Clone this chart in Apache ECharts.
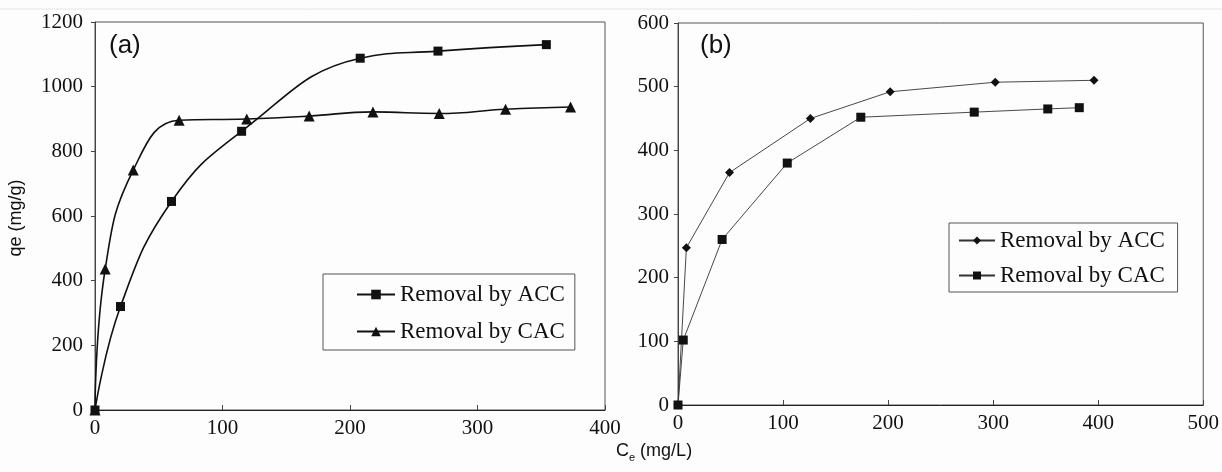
<!DOCTYPE html>
<html>
<head>
<meta charset="utf-8">
<script src="https://cdn.jsdelivr.net/npm/echarts@6/dist/echarts.min.js"></script>
<style>
  html, body { margin: 0; padding: 0; background: #fdfdfd; }
  #chart { width: 1222px; height: 472px; }
</style>
</head>
<body>
<div id="chart"></div>
<script>
// panel (a) values
const accAx = [0, 20, 60, 115, 208, 269, 354];
const accAy = [0, 320, 645, 862, 1088, 1110, 1130];
const cacAx = [0, 8, 30, 66, 119, 168, 218, 270, 322, 373];
const cacAy = [0, 436, 742, 896, 900, 909, 922, 917, 930, 937];

// panel (b) values
const accBx = [0, 8, 49, 126, 202, 302, 396];
const accBy = [0, 247, 365, 450, 492, 507, 510];
const cacBx = [0, 5, 42, 104, 174, 282, 352, 382];
const cacBy = [0, 102, 260, 380, 452, 460, 465, 467];

const nameAcc = 'Removal by ACC';
const nameCac = 'Removal by CAC';

const pairs = (xs, ys) => xs.map((x, i) => [x, ys[i]]);

const serif = 'Liberation Serif';
const sans = 'Liberation Sans';
const ink = '#111';

function axisX(grid, max, interval) {
  return {
    type: 'value', gridIndex: grid, min: 0, max: max, interval: interval,
    splitLine: { show: false },
    axisLine: { lineStyle: { color: '#222', width: 1 } },
    axisTick: { inside: true, length: 5, lineStyle: { color: '#444' } },
    axisLabel: { color: ink, fontFamily: serif, fontSize: 21, margin: 8, formatter: v => String(v) }
  };
}
function axisY(grid, max, interval, margin) {
  return {
    type: 'value', gridIndex: grid, min: 0, max: max, interval: interval,
    splitLine: { show: false },
    axisLine: { show: true, lineStyle: { color: '#444', width: 1 } },
    axisTick: { show: true, length: 4, lineStyle: { color: '#444' } },
    axisLabel: { color: ink, fontFamily: serif, fontSize: 21, margin: margin, formatter: v => String(v) }
  };
}

const chart = echarts.init(document.getElementById('chart'));
chart.setOption({
  animation: false,
  grid: [
    { left: 95, top: 22, width: 510, height: 388, show: true, borderColor: '#555', borderWidth: 1 },
    { left: 678, top: 23, width: 526, height: 382, show: true, borderColor: '#555', borderWidth: 1 }
  ],
  xAxis: [axisX(0, 400, 100), axisX(1, 500, 100)],
  yAxis: [axisY(0, 1200, 200, 12), axisY(1, 600, 100, 9)],
  legend: [
    {
      data: [nameAcc, nameCac],
      orient: 'vertical', left: 323, top: 274,
      padding: [9, 10, 7, 33], itemGap: 14, itemWidth: 38, itemHeight: 12,
      borderColor: '#555', borderWidth: 1,
      textStyle: { fontFamily: serif, fontSize: 23, color: ink }
    },
    {
      data: [nameAcc + ' ', nameCac + ' '],
      orient: 'vertical', left: 949, top: 223,
      padding: [6, 7, 5, 9], itemGap: 12, itemWidth: 36, itemHeight: 10,
      borderColor: '#555', borderWidth: 1,
      textStyle: { fontFamily: serif, fontSize: 23, color: ink }
    }
  ],
  graphic: [
    { type: 'line', shape: { x1: 0, y1: 9, x2: 1222, y2: 9 }, style: { stroke: '#e4e4e4', lineWidth: 1 } },
    { type: 'text', x: 109, y: 33, style: { text: '(a)', font: '26px ' + sans, fill: ink } },
    { type: 'text', x: 700, y: 33, style: { text: '(b)', font: '26px ' + sans, fill: ink } },
    {
      type: 'text', x: 16, y: 218, rotation: Math.PI / 2,
      style: { text: 'qe (mg/g)', font: '18px ' + sans, fill: ink, align: 'center', verticalAlign: 'middle' }
    },
    {
      type: 'text', x: 616, y: 442,
      style: {
        text: '{a|C}{b|e}{a| (mg/L)}',
        rich: {
          a: { fontFamily: sans, fontSize: 18, fill: ink, verticalAlign: 'top' },
          b: { fontFamily: sans, fontSize: 11, fill: ink, padding: [10, 0, 0, 0] }
        }
      }
    }
  ],
  series: [
    {
      name: nameAcc, type: 'line', xAxisIndex: 0, yAxisIndex: 0,
      data: pairs(accAx, accAy), smooth: 0.45,
      symbol: 'rect', symbolSize: 9,
      lineStyle: { color: '#111', width: 1.6 }, itemStyle: { color: '#111' }
    },
    {
      name: nameCac, type: 'line', xAxisIndex: 0, yAxisIndex: 0,
      data: pairs(cacAx, cacAy), smooth: 0.45,
      symbol: 'triangle', symbolSize: 11,
      lineStyle: { color: '#111', width: 1.6 }, itemStyle: { color: '#111' }
    },
    {
      name: nameAcc + ' ', type: 'line', xAxisIndex: 1, yAxisIndex: 1,
      data: pairs(accBx, accBy),
      symbol: 'diamond', symbolSize: 9,
      lineStyle: { color: '#333', width: 0.9 }, itemStyle: { color: '#111' }
    },
    {
      name: nameCac + ' ', type: 'line', xAxisIndex: 1, yAxisIndex: 1,
      data: pairs(cacBx, cacBy),
      symbol: 'rect', symbolSize: 9,
      lineStyle: { color: '#333', width: 0.9 }, itemStyle: { color: '#111' }
    }
  ]
});
</script>
</body>
</html>
